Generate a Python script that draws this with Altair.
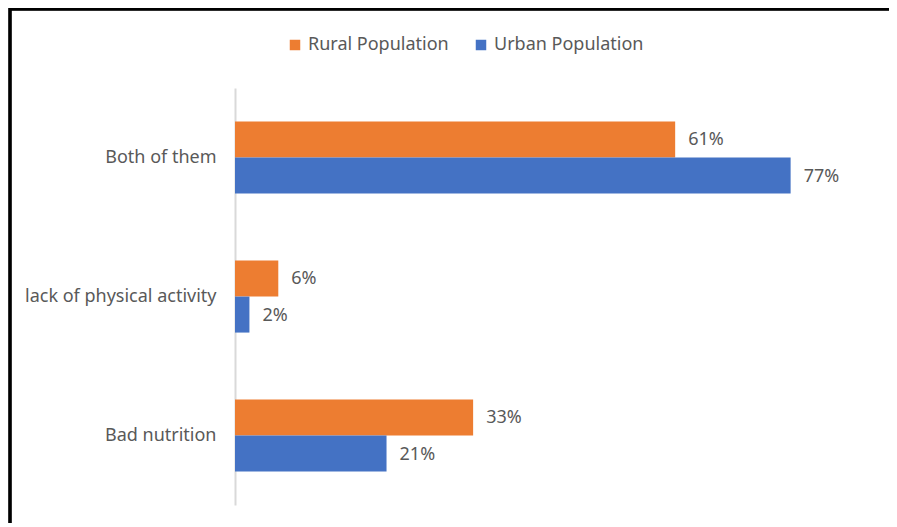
import altair as alt
import pandas as pd

categories = ["Both of them", "lack of physical activity", "Bad nutrition"]
series = ["Rural Population", "Urban Population"]
rural = [61, 6, 33]
urban = [77, 2, 21]
colors = ["#ED7D31", "#4472C4"]

rows = []
for c, r, u in zip(categories, rural, urban):
    rows.append({"cat": c, "series": series[0], "value": r, "label": f"{r}%"})
    rows.append({"cat": c, "series": series[1], "value": u, "label": f"{u}%"})
df = pd.DataFrame(rows)

FONT = "Noto Sans"
GRAY = "#595959"

base = alt.Chart(df).encode(
    y=alt.Y("cat:N", sort=categories, title=None,
            scale=alt.Scale(paddingInner=0.48, paddingOuter=0.24),
            axis=alt.Axis(domainColor="#d9d9d9", domainWidth=2, ticks=False,
                          labelPadding=19, labelFontSize=18, labelColor=GRAY,
                          labelFont=FONT, grid=False, labelLimit=300)),
    yOffset=alt.YOffset("series:N", sort=series, scale=alt.Scale(paddingInner=0, paddingOuter=0)),
    x=alt.X("value:Q", scale=alt.Scale(domain=[0, 88]), axis=None, title=None),
)

bars = base.mark_bar(size=36).encode(
    color=alt.Color("series:N", sort=series,
                    scale=alt.Scale(domain=series, range=colors),
                    legend=alt.Legend(title=None, orient="none", direction="horizontal",
                                      legendX=51, legendY=-52, symbolType="square",
                                      symbolSize=110, symbolStrokeWidth=0,
                                      labelFontSize=18, labelColor=GRAY, labelFont=FONT,
                                      columnPadding=23, labelOffset=4, labelLimit=300))
)

texts = base.mark_text(align="left", baseline="middle", dx=13, dy=1, fontSize=18,
                       color=GRAY, font=FONT).encode(text="label:N")

border_left = alt.Chart(df).mark_rule(color="black", strokeWidth=2.5).encode(
    x=alt.value(-225), y=alt.value(-80), y2=alt.value(440))
border_top = alt.Chart(df).mark_rule(color="black", strokeWidth=2.5).encode(
    x=alt.value(-226), x2=alt.value(680), y=alt.value(-79))

chart = alt.layer(bars, texts, border_left, border_top).properties(
    width=635, height=417,
    autosize=alt.AutoSizeParams(type="none"),
    padding={"left": 227, "top": 80, "right": 19, "bottom": 18},
).configure(background="white").configure_view(stroke=None, strokeWidth=0)

chart.save("out.html", embed_options={"renderer": "svg", "actions": False})
